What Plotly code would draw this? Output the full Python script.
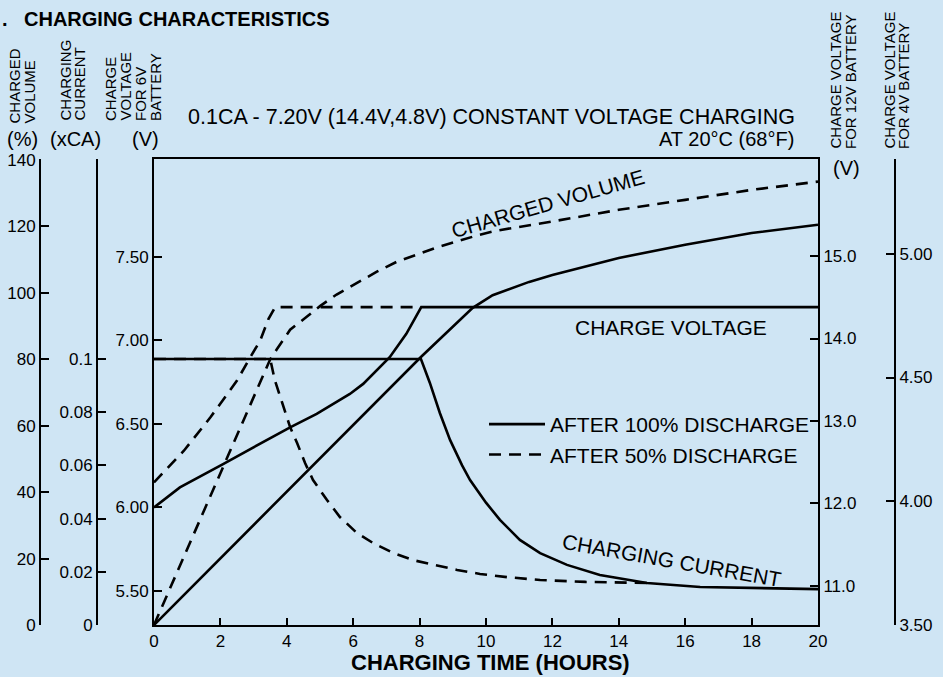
import plotly.graph_objects as go

# ---------------- data ----------------
hours_volt_100 = [0, 0.78, 2.08, 4.1, 4.9, 5.9, 6.3, 7.1, 7.6, 8.05, 20]
volt_100 = [6.00, 6.12, 6.26, 6.48, 6.56, 6.68, 6.74, 6.90, 7.04, 7.20, 7.20]

hours_volt_50 = [0, 0.9, 1.7, 2.5, 2.9, 3.2, 3.45, 3.65, 8.0]
volt_50 = [6.15, 6.34, 6.54, 6.76, 6.90, 7.00, 7.13, 7.20, 7.20]

hours_cur_100 = [0, 8.04, 8.31, 8.61, 8.92, 9.28, 9.52, 10.0, 10.42, 11.02, 11.63,
                 12.44, 13.43, 14.85, 16.45, 17.95, 20]
cur_100 = [0.1, 0.1, 0.091, 0.0797, 0.0695, 0.060, 0.0545, 0.046, 0.0395, 0.032, 0.027,
           0.0226, 0.0188, 0.0158, 0.0143, 0.0139, 0.0135]

hours_cur_50 = [0, 3.5, 3.64, 3.89, 4.1, 4.31, 4.55, 4.79, 5.21, 5.6, 6.11, 6.6, 7.2,
                7.8, 8.4, 9.13, 9.82, 10.63, 11.63, 13.0, 14.85]
cur_50 = [0.1, 0.1, 0.092, 0.082, 0.0744, 0.0684, 0.0609, 0.0545, 0.047, 0.0406, 0.0346,
          0.0308, 0.0271, 0.0244, 0.0226, 0.0207, 0.0192, 0.018, 0.0169, 0.0162, 0.0158]

hours_vol_100 = [0, 8.04, 9.6, 10.2, 11.3, 12, 14, 16, 18, 20]
vol_100 = [0, 80.7, 95.5, 99.3, 103.3, 105.4, 110.5, 114.5, 118, 120.5]

hours_vol_50 = [0, 1, 2, 3, 3.5, 3.7, 4.1, 4.6, 5.0, 5.5, 6.1, 6.7, 7.3, 8.5, 9.7, 10.3,
                12, 14, 16, 18, 20]
vol_50 = [0, 23, 46, 69, 80, 83, 88.9, 92.8, 96, 99.5, 103, 106.3, 109.3, 113.6, 117.2,
          118.7, 121.5, 125, 128, 131, 133.5]

x_ticks = list(range(0, 21, 2))
vol_ticks = list(range(0, 141, 20))
cur_ticks = [0, 0.02, 0.04, 0.06, 0.08, 0.1]
cur_tick_text = ["0", "0.02", "0.04", "0.06", "0.08", "0.1"]
v6_ticks = [5.5, 6.0, 6.5, 7.0, 7.5]
v6_text = ["5.50", "6.00", "6.50", "7.00", "7.50"]
v12_ticks = [11, 12, 13, 14, 15]
v12_text = ["11.0", "12.0", "13.0", "14.0", "15.0"]
v4_ticks = [3.5, 4.0, 4.5, 5.0]
v4_text = ["3.50", "4.00", "4.50", "5.00"]

# ---------------- layout helpers ----------------
W, H = 943, 677
ML, MR, MT, MB = 30, 30, 159, 52
PW = W - ML - MR
PH = H - MT - MB


def px(x):
    return (x - ML) / PW


def py(y):
    return (H - MB - y) / PH


FONT = "Liberation Sans, Arial, Helvetica, sans-serif"
BG = "#CFE5F4"
LW = 2.6
DASH = "12px,8px"

fig = go.Figure()


def line(xs, ys, yax, dash, name=None, legend=False):
    fig.add_trace(go.Scatter(
        x=xs, y=ys, yaxis=yax, mode="lines", name=name, showlegend=legend,
        line=dict(color="black", width=LW, dash=dash), hoverinfo="skip"))


line(hours_volt_100, volt_100, "y", "solid", "AFTER 100% DISCHARGE", True)
line(hours_volt_50, volt_50, "y", DASH, "AFTER 50% DISCHARGE", True)
line(hours_vol_100, vol_100, "y2", "solid")
line(hours_vol_50, vol_50, "y2", DASH)
line(hours_cur_100, cur_100, "y3", "solid")
line(hours_cur_50, cur_50, "y3", DASH)
fig.add_trace(go.Scatter(x=[None], y=[None], yaxis="y4", showlegend=False))
fig.add_trace(go.Scatter(x=[None], y=[None], yaxis="y5", showlegend=False))

tickfont = dict(family=FONT, size=17, color="black")
common = dict(showgrid=False, zeroline=False, showline=True, linecolor="black",
              linewidth=2, ticks="inside", ticklen=8, tickwidth=2, tickcolor="black",
              tickfont=tickfont, fixedrange=True)

fig.update_layout(
    width=W, height=H,
    margin=dict(l=ML, r=MR, t=MT, b=MB, autoexpand=False),
    paper_bgcolor=BG, plot_bgcolor=BG,
    font=dict(family=FONT, color="black"),
    xaxis=dict(domain=[px(154), px(818)], range=[0, 20], tickvals=x_ticks,
               mirror=True, ticklen=7, **{k: v for k, v in common.items() if k != "ticklen"}),
    yaxis=dict(range=[5.296, 8.087], tickvals=v6_ticks, ticktext=v6_text, side="left",
               **common),
    yaxis2=dict(range=[0, 140.3], tickvals=vol_ticks, overlaying="y", anchor="free",
                position=px(40), side="left", **common),
    yaxis3=dict(range=[0, 0.17519], tickvals=cur_ticks, ticktext=cur_tick_text,
                overlaying="y", anchor="free", position=px(97), side="left", **common),
    yaxis4=dict(range=[10.527, 16.176], tickvals=v12_ticks, ticktext=v12_text,
                overlaying="y", anchor="x", side="right", **common),
    yaxis5=dict(range=[3.499, 5.384], tickvals=v4_ticks, ticktext=v4_text,
                overlaying="y", anchor="free", position=px(895), side="right", **common),
    legend=dict(x=px(484), y=py(404), xanchor="left", yanchor="top",
                bgcolor="rgba(0,0,0,0)", font=dict(family=FONT, size=21),
                itemwidth=56, tracegroupgap=0),
)

ann = []


def text(t, x, y, size=20, xa="center", ya="middle", angle=0, bold=False):
    if bold:
        t = "<b>" + t + "</b>"
    ann.append(dict(text=t, x=px(x), y=py(y), xref="paper", yref="paper",
                    xanchor=xa, yanchor=ya, showarrow=False, textangle=angle,
                    font=dict(family=FONT, size=size, color="black")))


text(".", 0, 19, size=20, xa="left", bold=True)
text("CHARGING CHARACTERISTICS", 22, 19, size=20, xa="left", bold=True)

# rotated axis headers
for t, cx in [("CHARGED", 14), ("VOLUME", 29)]:
    text(t, cx, 126, size=15, ya="bottom", angle=-90)
for t, cx in [("CHARGING", 65), ("CURRENT", 79)]:
    text(t, cx, 123, size=15, ya="bottom", angle=-90)
for t, cx in [("CHARGE", 110), ("VOLTAGE", 125), ("FOR 6V", 140), ("BATTERY", 155)]:
    text(t, cx, 123, size=15, ya="bottom", angle=-90)
for t, cx in [("CHARGE VOLTAGE", 835), ("FOR 12V BATTERY", 850)]:
    text(t, cx, 151, size=15, ya="bottom", angle=-90)
for t, cx in [("CHARGE VOLTAGE", 889), ("FOR 4V BATTERY", 903)]:
    text(t, cx, 151, size=15, ya="bottom", angle=-90)

text("(%)", 22, 139)
text("(xCA)", 75, 139)
text("(V)", 145, 139)
text("(V)", 846, 168)

text("0.1CA - 7.20V (14.4V,4.8V) CONSTANT VOLTAGE CHARGING", 186, 117, size=21.5, xa="left")
text("AT 20°C (68°F)", 796, 139, xa="right")

text("CHARGED VOLUME", 548, 203, size=21, angle=-16)
text("CHARGE VOLTAGE", 671, 327, size=21)
text("CHARGING CURRENT", 672, 560, size=21, angle=10)

text("CHARGING TIME (HOURS)", 490, 662, size=22, bold=True)

fig.update_layout(annotations=ann)
fig.write_html("out.html",
               config={"displayModeBar": False},
               post_script=["document.body.style.margin='0px';"
                            "document.body.style.padding='0px';"])
